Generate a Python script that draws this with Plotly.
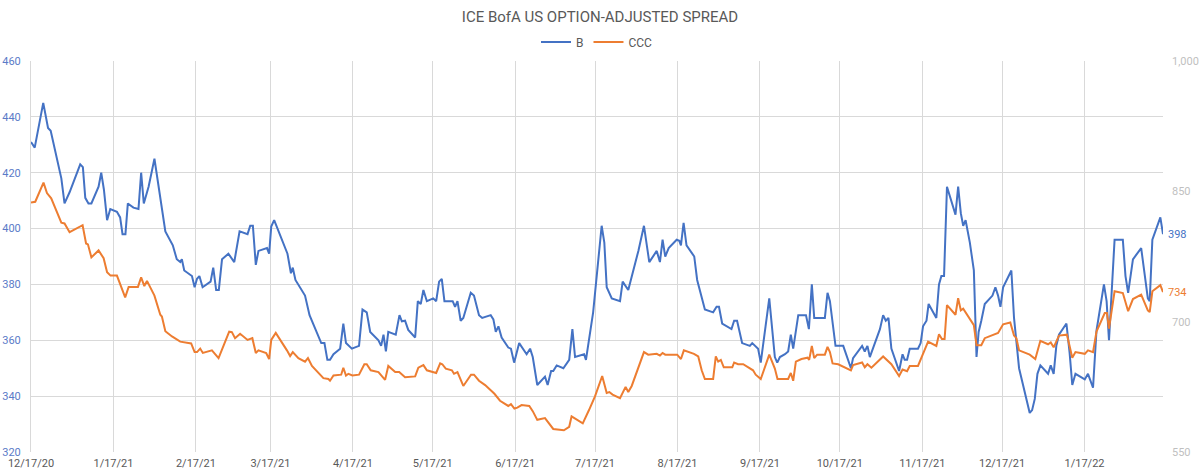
import pandas as pd
import plotly.graph_objects as go

start_date = "2020-12-17"

# B series: days since 2020-12-17, option-adjusted spread (bp, left axis)
b_days = [0, 1.4, 4.6, 6.4, 7.4, 11.4, 12.6, 13.5, 14.5, 18.5, 19.5, 20.4, 21.6, 22.7, 25.4, 26.4, 27.4, 28.6, 29.8,
          32.3, 33.5, 34.4, 35.5, 36.4, 38.5, 40.4, 41.4, 42.4, 44.2, 46.4, 48.6, 50.5, 53.3, 54.8, 56.1, 56.7, 57.6,
          60.5, 61.5, 62.4, 63.3, 64.5, 67.5, 68.5, 69.6, 70.6, 71.8, 74.2, 76.4, 78.4, 81.4, 82.4, 83.4, 84.5, 85.5,
          88.7, 89.5, 90.3, 91.4, 96.4, 97.7, 98.4, 99.4, 103.0, 104.7, 109.1, 110.3, 111.4, 112.4, 113.7, 116.2,
          117.4, 118.4, 120.6, 123.3, 124.6, 126.2, 127.5, 130.6, 131.6, 132.5, 133.4, 134.3, 137.1, 138.5, 139.4,
          140.6, 141.8, 144.4, 145.4, 146.5, 147.5, 148.8, 151.2, 152.3, 153.4, 154.4, 155.4, 158.5, 159.4, 160.3,
          161.5, 162.5, 165.3, 166.5, 168.4, 169.6, 172.8, 173.8, 174.7, 175.7, 176.9, 179.4, 180.4, 181.6, 183.5,
          186.3, 187.6, 188.6, 190.3, 193.2, 194.2, 195.5, 196.3, 197.6, 200.1, 202.3, 203.5, 204.5, 207.9, 208.6,
          210.1, 211.3, 214.5, 215.5, 216.4, 218.3, 221.4, 222.4, 224.5, 228.3, 230.4, 232.4, 235.2, 236.4, 237.4,
          238.4, 239.7, 242.7, 243.7, 244.3, 245.3, 246.4, 249.3, 250.4, 253.3, 256.4, 257.7, 258.6, 259.8, 261.5,
          263.3, 264.3, 265.4, 267.3, 270.2, 271.1, 273.3, 274.3, 277.5, 279.6, 280.5, 281.5, 283.4, 284.6, 285.6,
          286.5, 288.4, 291.3, 292.4, 293.5, 294.4, 298.4, 299.4, 300.3, 302.4, 305.3, 308.2, 309.0, 312.4, 313.4,
          314.4, 315.3, 319.1, 320.3, 321.3, 322.3, 323.4, 326.3, 327.6, 328.4, 329.3, 330.3, 333.4, 334.4, 335.3,
          336.6, 337.4, 340.3, 341.3, 342.2, 343.2, 344.3, 347.5, 348.5, 349.5, 350.4, 351.3, 352.9, 353.9, 354.4,
          355.4, 356.2, 357.2, 358.5, 361.4, 362.5, 363.5, 364.4, 365.4, 368.5, 369.5, 371.4, 375.4, 376.3, 377.3,
          378.3, 379.4, 382.3, 383.3, 384.4, 385.4, 386.4, 389.2, 390.4, 391.4, 392.6, 396.1, 397.3, 399.2, 400.5,
          403.3, 404.3, 405.2, 407.3, 410.4, 411.4, 412.4, 414.2, 417.3, 418.3, 419.8, 420.5, 421.5, 424.5, 425.5]
b_values = [431, 429, 445, 436, 435, 418, 409, 411, 413, 423, 422, 411, 409, 409, 415, 420, 414, 403, 407,
            406, 404, 398, 398, 409, 407.5, 407, 420, 409, 415, 425, 410, 399, 394, 389, 388, 389, 385,
            383, 379, 382, 383, 379, 381, 386, 378, 378, 389, 391, 388, 399, 398, 401, 401, 387, 392,
            393, 391, 400.7, 403, 391, 384, 386, 381.6, 376, 369, 359, 359, 353, 353, 355, 357,
            366, 359, 357, 358, 371, 370, 363, 360, 358, 362, 356, 363, 362, 369, 366.8,
            367, 363.7, 361, 374, 373, 378, 374, 375, 374, 381, 382, 374, 374, 372, 374,
            367, 368, 377, 376, 369, 368, 369, 367.5, 363, 365, 361, 357.4, 357, 352, 359,
            355, 357, 354, 344, 347, 344, 349, 349, 351, 350, 353, 364, 354, 355, 353,
            362, 370, 401, 395, 379, 375, 374, 381, 378, 392, 401, 388, 392, 388, 396,
            390, 393, 396, 395.6, 394, 402, 394, 390, 381.6, 371, 370, 372, 372, 366, 365,
            364, 367, 367, 359, 358, 359, 357, 352, 375, 354, 352, 354, 355, 356, 362,
            357, 369, 369, 364, 380, 368, 368, 377, 374, 358, 358, 350, 353.6, 358, 356,
            358, 354, 364, 369, 367, 368, 357, 349, 355, 353, 353, 357, 357, 359, 365,
            367, 373, 368, 380, 383, 383, 415, 405, 415, 405.5, 401, 403, 395, 389, 385,
            354, 363, 367, 373, 376, 379, 376, 372, 379, 385, 368, 350, 334, 335, 339,
            348, 351, 348, 351, 348, 358, 362, 366, 355.5, 344, 348, 346, 348, 343, 363.5,
            380, 374, 360, 396, 396, 383, 377, 389, 393, 386, 375, 374, 396, 404, 398]

# CCC series: days since 2020-12-17, option-adjusted spread (bp, right axis)
ccc_days = [0, 1.6, 4.7, 6.0, 7.6, 11.4, 12.6, 14.5, 19.4, 20.7, 21.4, 22.7, 25.4, 27.3, 28.6, 29.9, 32.3, 35.4,
            36.7, 40.2, 41.4, 42.6, 43.6, 46.4, 48.6, 49.2, 50.5, 53.0, 56.1, 60.2, 61.5, 62.4, 63.6, 64.6, 68.0,
            69.2, 70.5, 74.5, 75.5, 76.7, 78.6, 81.4, 83.2, 84.5, 85.5, 88.4, 89.5, 90.3, 92.0, 96.2, 97.4, 98.4,
            100.5, 103.0, 104.1, 105.6, 109.9, 111.8, 112.4, 113.7, 116.6, 117.4, 118.4, 119.3, 120.8, 123.3, 125.3,
            126.2, 127.7, 130.6, 133.1, 134.3, 136.9, 138.4, 140.6, 144.4, 145.6, 147.5, 148.8, 152.3, 153.8, 154.6,
            155.9, 158.2, 159.0, 160.3, 162.5, 165.4, 166.5, 168.4, 170.7, 174.2, 176.3, 179.4, 180.4, 181.7, 182.8,
            184.4, 187.3, 188.6, 190.3, 193.2, 194.7, 196.3, 200.3, 202.3, 203.2, 207.4, 209.7, 212.0, 214.7, 216.4,
            217.4, 218.6, 221.4, 223.5, 224.5, 225.8, 230.4, 232.0, 235.2, 236.4, 237.4, 238.4, 242.9, 244.3, 245.4,
            249.2, 250.8, 252.1, 253.3, 256.4, 257.4, 258.3, 259.3, 260.4, 263.6, 264.3, 265.8, 267.7, 271.4, 272.4,
            274.3, 277.5, 279.6, 280.6, 283.4, 284.6, 285.6, 286.5, 287.5, 289.6, 291.9, 292.5, 293.5, 294.4, 295.5,
            298.4, 299.4, 300.3, 301.3, 303.4, 308.2, 309.0, 312.4, 313.4, 314.4, 315.9, 320.3, 323.4, 326.3, 327.6,
            329.3, 330.3, 333.4, 337.2, 340.3, 341.3, 342.4, 343.4, 344.3, 347.5, 348.5, 349.5, 350.4, 352.9, 353.9,
            354.4, 355.4, 357.2, 358.5, 363.5, 365.4, 368.1, 369.5, 370.4, 371.4, 375.4, 377.5, 379.4, 382.3, 383.3,
            384.4, 386.4, 389.4, 391.4, 392.6, 396.1, 397.3, 399.2, 400.5, 403.6, 404.4, 405.2, 407.3, 410.4, 412.4,
            414.2, 417.3, 419.8, 420.5, 421.5, 424.5, 425.5]
ccc_values = [837, 838, 860, 848, 842, 814, 813, 803, 811, 790, 789, 774, 782, 773, 757, 753, 753, 728,
              740, 740, 751, 741, 747, 730, 708, 706, 689, 683, 677, 675, 665, 665, 669, 664, 667,
              662, 658, 688.5, 688, 681, 686, 679, 681, 664, 667, 664, 657, 679, 687, 667, 660.5, 665,
              658, 654, 658, 649, 635, 634, 632, 638, 639, 647, 638, 640, 638, 639, 651,
              651, 644, 642, 633, 649, 642, 642, 636, 637, 647, 650, 644, 641, 652, 651,
              646, 644, 640, 642, 626, 639, 639, 632, 627, 617, 609, 603, 605, 600, 601,
              604, 603, 597, 587, 589, 583, 576.5, 575, 579, 591, 583, 598, 614, 637.5, 618,
              619, 616, 612, 625, 619, 626, 665, 662, 663, 661, 664, 662, 662, 657, 667,
              663, 660, 644, 634, 634, 660, 654, 656, 647.5, 647.5, 653, 651, 651, 644, 639,
              634, 662, 646, 634, 634, 634, 641, 632, 654, 657, 658.5, 656, 672, 658, 662,
              662, 671, 665, 652, 651, 644, 650, 653, 647.5, 651, 647, 660, 651, 637.5, 645,
              643, 649, 649, 677, 672, 685.5, 680, 680, 719, 708, 727, 713, 715, 704, 699,
              696, 673, 673, 681, 687, 697, 699, 684, 681, 667, 662, 657, 678, 674, 676,
              670.5, 684, 685, 658.5, 665, 663, 667, 665, 688.5, 710, 710, 692, 735, 733, 712,
              726, 731, 713, 711, 735, 742, 734]

left_ticks = [320, 340, 360, 380, 400, 420, 440, 460]
right_ticks = [550, 700, 850, 1000]

BLUE = "#4472C4"
ORANGE = "#ED7D31"
GRID = "#D9D9D9"
FONT = "Roboto"

t0 = pd.Timestamp(start_date)
b_dates = t0 + pd.to_timedelta(b_days, unit="D")
ccc_dates = t0 + pd.to_timedelta(ccc_days, unit="D")

fig = go.Figure()
fig.add_trace(go.Scatter(x=b_dates, y=b_values, name="B", mode="lines",
                         line=dict(color=BLUE, width=2), yaxis="y"))
fig.add_trace(go.Scatter(x=ccc_dates, y=ccc_values, name="CCC", mode="lines",
                         line=dict(color=ORANGE, width=2), yaxis="y2"))

fig.add_annotation(x=1, xref="paper", xanchor="left", y=b_values[-1], yref="y",
                   text=f"{b_values[-1]:.0f}", showarrow=False, xshift=3,
                   font=dict(family=FONT, size=11, color=BLUE))
fig.add_annotation(x=1, xref="paper", xanchor="left", y=ccc_values[-1], yref="y2",
                   text=f"{ccc_values[-1]:.0f}", showarrow=False, xshift=3,
                   font=dict(family=FONT, size=11, color=ORANGE))

fig.update_layout(
    width=1200, height=476,
    margin=dict(l=31, r=37, t=61, b=24, autoexpand=False),
    paper_bgcolor="white", plot_bgcolor="white",
    font=dict(family=FONT, size=11, color="#595959"),
    title=dict(text="ICE BofA US OPTION-ADJUSTED SPREAD", x=0.5, xanchor="center",
               y=1 - 17 / 476, yanchor="middle",
               font=dict(family=FONT, size=15, color="#595959")),
    legend=dict(orientation="h", x=0.5, xanchor="center", yref="container",
                y=1 - 42 / 476, yanchor="middle",
                font=dict(family=FONT, size=12, color="#595959"),
                itemwidth=30, bgcolor="rgba(0,0,0,0)"),
    showlegend=True,
    xaxis=dict(type="date", range=[t0, b_dates[-1]],
               tick0=start_date, dtick="M1", tickformat="%-m/%-d/%y",
               showgrid=True, gridcolor=GRID, gridwidth=1,
               showline=False, zeroline=False, ticks="", ticklabelstandoff=3,
               tickfont=dict(family=FONT, size=11, color="#595959")),
    yaxis=dict(range=[320, 460], tickvals=left_ticks,
               showgrid=True, gridcolor=GRID, gridwidth=1,
               showline=True, linecolor=GRID, linewidth=1,
               zeroline=False, ticks="", ticklabelstandoff=7,
               tickfont=dict(family=FONT, size=11, color="#5B7BC8")),
    yaxis2=dict(range=[550, 1000], tickvals=right_ticks, tickformat=",d",
                overlaying="y", side="right", showgrid=False, zeroline=False,
                showline=False, ticks="", ticklabelstandoff=8,
                tickfont=dict(family=FONT, size=11, color="#BFBFBF")),
)

fig.write_html("out.html")
